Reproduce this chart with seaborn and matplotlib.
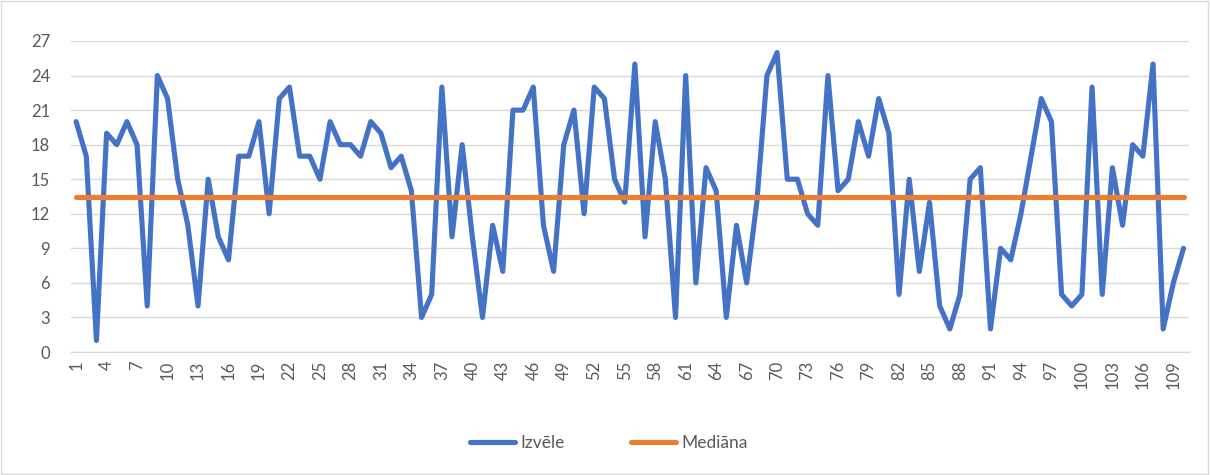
import numpy as np
import pandas as pd
import matplotlib
matplotlib.use("Agg")
import matplotlib.pyplot as plt
import seaborn as sns

# Response index and chosen value for each respondent
respondents = list(range(1, 111))
izvele = [
    20, 17, 1, 19, 18, 20, 18, 4, 24, 22,
    15, 11, 4, 15, 10, 8, 17, 17, 20, 12,
    22, 23, 17, 17, 15, 20, 18, 18, 17, 20,
    19, 16, 17, 14, 3, 5, 23, 10, 18, 10,
    3, 11, 7, 21, 21, 23, 11, 7, 18, 21,
    12, 23, 22, 15, 13, 25, 10, 20, 15, 3,
    24, 6, 16, 14, 3, 11, 6, 13, 24, 26,
    15, 15, 12, 11, 24, 14, 15, 20, 17, 22,
    19, 5, 15, 7, 13, 4, 2, 5, 15, 16,
    2, 9, 8, 12, 17, 22, 20, 5, 4, 5,
    23, 5, 16, 11, 18, 17, 25, 2, 6, 9,
]
mediana_value = 13.5
series_names = ["Izvēle", "Mediāna"]
y_ticks = list(range(0, 28, 3))
x_ticks = list(range(1, 111, 3))

df = pd.DataFrame({
    "nr": respondents * 2,
    "value": izvele + [mediana_value] * len(respondents),
    "series": [series_names[0]] * len(respondents) + [series_names[1]] * len(respondents),
})

sns.set_theme(style="white")
plt.rcParams["font.family"] = ["Lato", "DejaVu Sans"]

fig = plt.figure(figsize=(12.1, 4.75), dpi=100)
fig.patch.set_facecolor("white")
ax = fig.add_axes([0.0587, 0.2589, 0.9236, 0.6548])

palette = {"Izvēle": "#4472C4", "Mediāna": "#ED7D31"}
line_w = 3.7
sns.lineplot(data=df, x="nr", y="value", hue="series", palette=palette,
             linewidth=line_w, ax=ax, legend=False, solid_capstyle="round",
             solid_joinstyle="round")

ax.set_xlim(0.5, 110.5)
ax.set_ylim(0, 27)
ax.set_yticks(y_ticks)
ax.set_yticklabels([str(v) for v in y_ticks])
ax.set_xticks(x_ticks)
ax.set_xticklabels([str(v) for v in x_ticks], rotation=90, va="top")
ax.set_xlabel("")
ax.set_ylabel("")

ax.yaxis.grid(True, color="#D9D9D9", linewidth=1.0)
ax.xaxis.grid(False)
ax.set_axisbelow(True)
for side in ["top", "right", "left"]:
    ax.spines[side].set_visible(False)
ax.spines["bottom"].set_color("#D9D9D9")
ax.spines["bottom"].set_linewidth(1.0)
ax.tick_params(axis="y", length=0, pad=15, labelsize=12, labelcolor="#595959")
ax.tick_params(axis="x", length=0, pad=6, labelsize=12, labelcolor="#595959")

handles = [plt.Line2D([], [], color=palette[n], linewidth=line_w, solid_capstyle="round")
           for n in series_names]
fig.legend(handles, series_names, loc="center", bbox_to_anchor=(0.503, 0.067),
           ncol=2, frameon=False, fontsize=12.5, labelcolor="#595959",
           handlelength=2.6, columnspacing=3.8, handletextpad=0.3)

# light frame around the chart area
fig.add_artist(plt.Rectangle((0.001, 0.002), 0.997, 0.995, transform=fig.transFigure,
                             fill=False, edgecolor="#D9D9D9", linewidth=1.0))

fig.savefig("out.png", dpi=100)
